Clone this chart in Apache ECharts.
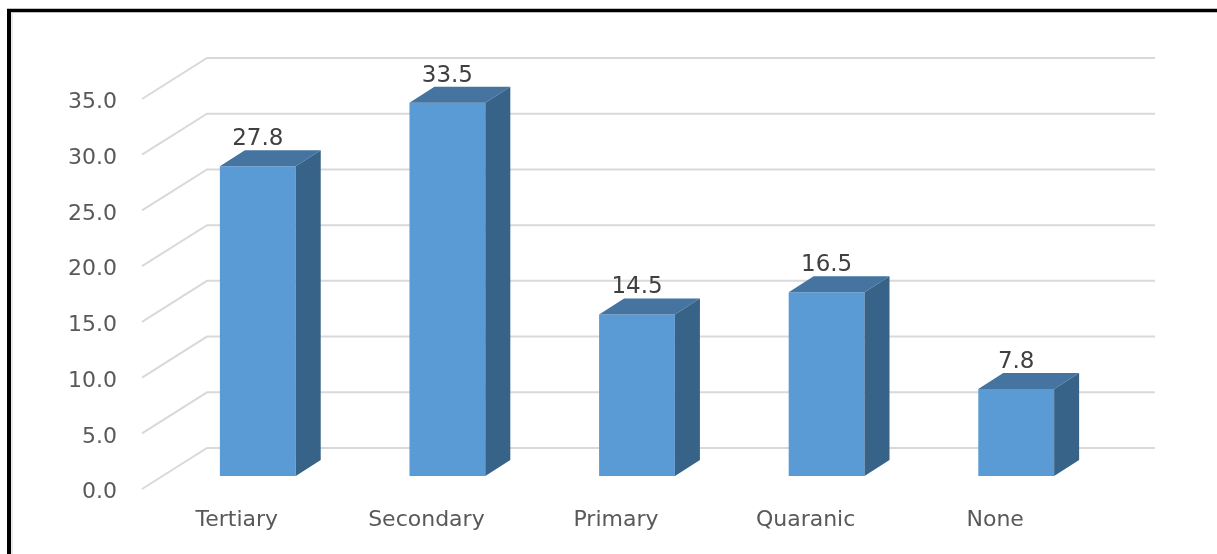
<!DOCTYPE html>
<html>
<head>
<meta charset="utf-8">
<script src="https://cdn.jsdelivr.net/npm/echarts@6/dist/echarts.min.js"></script>
<style>
  html, body { margin: 0; padding: 0; background: #fff; }
  #chart { width: 1217px; height: 554px; }
</style>
</head>
<body>
<div id="chart"></div>
<script>
var categories = ['Tertiary', 'Secondary', 'Primary', 'Quaranic', 'None'];
var values = [27.8, 33.5, 14.5, 16.5, 7.8];
var yTicks = [0, 5, 10, 15, 20, 25, 30, 35];

// depth of the 3d box: back wall offset and where the bars sit in it
var wallDx = 65, wallDy = -41;
var barDx = 21, barDy = -13;
var depthDx = 25, depthDy = -16;

var myChart = echarts.init(document.getElementById('chart'));

function renderWall(params, api) {
    var p = api.coord([0, api.value(1)]);
    var cs = params.coordSys;
    var x0 = cs.x, y = p[1];
    return {
        type: 'polyline',
        shape: {
            points: [[x0, y], [x0 + wallDx, y + wallDy], [x0 + cs.width + wallDx, y + wallDy]]
        },
        style: { stroke: '#d9d9d9', lineWidth: 2, fill: null },
        silent: true
    };
}

function renderBar(params, api) {
    var idx = api.value(0);
    var val = api.value(1);
    var base = api.coord([idx, 0]);
    var top = api.coord([idx, val]);
    var band = api.size([1, 0])[0];
    var w = band * 0.4;
    var xl = base[0] + barDx - w / 2;
    var xr = xl + w;
    var yb = base[1] + barDy;
    var yt = top[1] + barDy;
    return {
        type: 'group',
        children: [
            {
                type: 'rect',
                shape: { x: xl, y: yt, width: w, height: yb - yt },
                style: { fill: '#5b9bd5' }
            },
            {
                type: 'polygon',
                shape: { points: [[xl, yt], [xr, yt], [xr + depthDx, yt + depthDy], [xl + depthDx, yt + depthDy]] },
                style: { fill: '#4574a0' }
            },
            {
                type: 'polygon',
                shape: { points: [[xr, yt], [xr, yb], [xr + depthDx, yb + depthDy], [xr + depthDx, yt + depthDy]] },
                style: { fill: '#386388' }
            },
            {
                type: 'text',
                style: {
                    text: val.toFixed(1),
                    x: (xl + xr) / 2,
                    y: yt + depthDy + 0.5,
                    textAlign: 'center',
                    textVerticalAlign: 'bottom',
                    fill: '#404040',
                    fontSize: 23,
                    fontFamily: 'DejaVu Sans'
                }
            }
        ]
    };
}

var option = {
    animation: false,
    grid: { left: 142, right: 127, top: 99, bottom: 65 },
    xAxis: {
        type: 'category',
        data: categories,
        axisLine: { show: false },
        axisTick: { show: false },
        axisLabel: { color: '#595959', fontSize: 22, fontFamily: 'DejaVu Sans', margin: 20 }
    },
    yAxis: {
        type: 'value',
        min: 0,
        max: 35,
        interval: 5,
        splitLine: { show: false },
        axisLine: { show: false },
        axisTick: { show: false },
        axisLabel: {
            margin: 25,
            formatter: function (v) { return '{t|' + v.toFixed(1) + '}'; },
            rich: {
                t: { color: '#595959', fontSize: 22, fontFamily: 'DejaVu Sans', padding: [7, 0, 0, 0] }
            }
        }
    },
    graphic: [
        { type: 'line', shape: { x1: 7, y1: 10.5, x2: 1217, y2: 10.5 }, style: { stroke: '#000', lineWidth: 3.5 } },
        { type: 'line', shape: { x1: 9, y1: 9, x2: 9, y2: 554 }, style: { stroke: '#000', lineWidth: 4 } },
        { type: 'line', shape: { x1: 12, y1: 13, x2: 12, y2: 554 }, style: { stroke: '#e3e3e3', lineWidth: 1.5 } }
    ],
    series: [
        {
            type: 'custom',
            z: 1,
            renderItem: renderWall,
            data: yTicks.map(function (v) { return [0, v]; })
        },
        {
            type: 'custom',
            z: 2,
            renderItem: renderBar,
            data: values.map(function (v, i) { return [i, v]; })
        }
    ]
};
myChart.setOption(option);
</script>
</body>
</html>
